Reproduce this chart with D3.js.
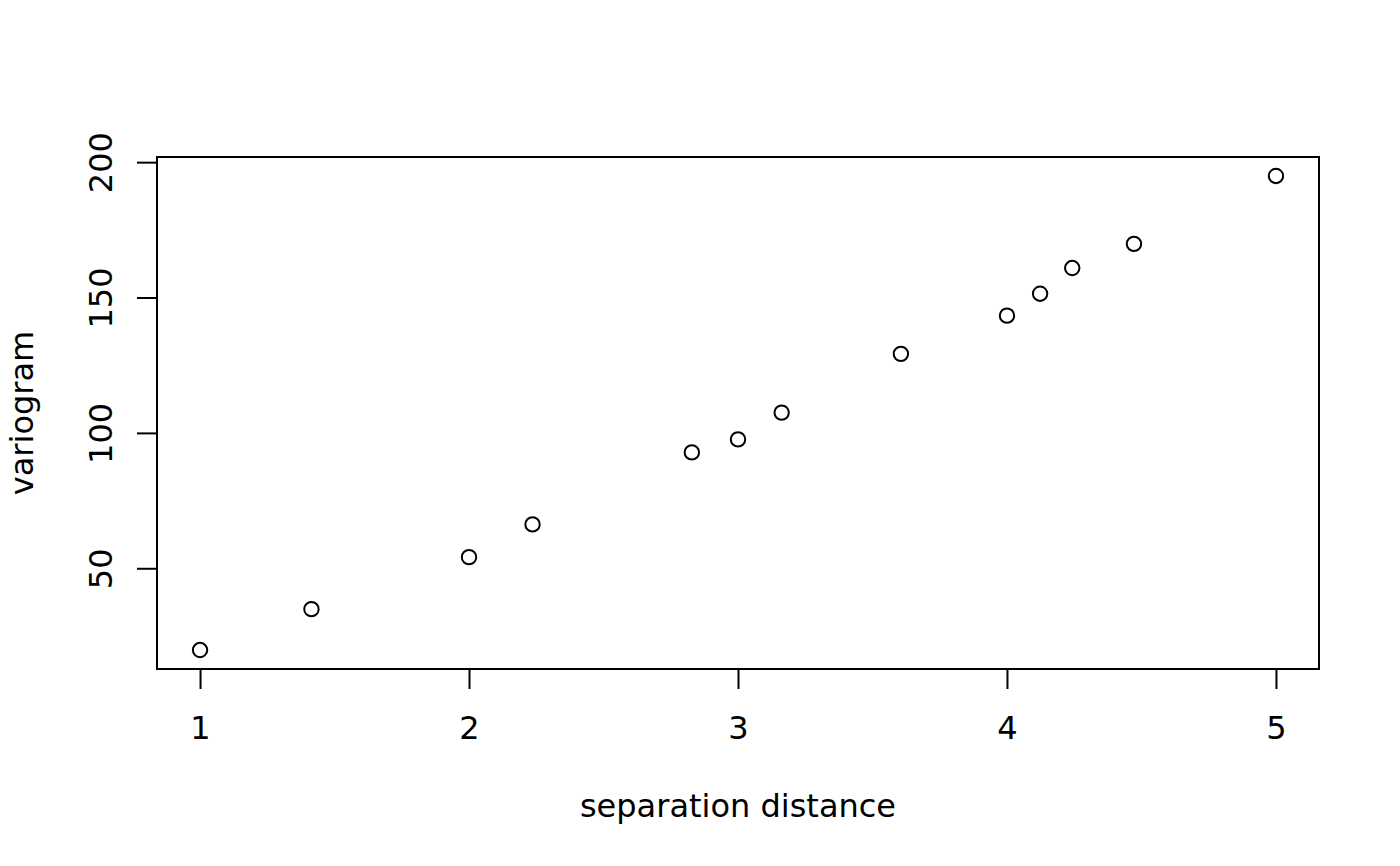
<!DOCTYPE html>
<html><head><meta charset="utf-8">
<script src="https://cdn.jsdelivr.net/npm/d3@7"></script>
<style>body{margin:0;background:#fff}svg{display:block}text{font-family:"DejaVu Sans";fill:#000}</style>
</head><body>
<svg id="c" width="1400" height="866"></svg>
<script>
const distances = [1, 1.4142, 2, 2.2361, 2.8284, 3, 3.1623, 3.6056, 4, 4.1231, 4.2426, 4.4721, 5];
const variogram = [19.8, 34.9, 54.1, 66.2, 92.8, 97.6, 107.5, 129.2, 143.3, 151.4, 160.9, 169.8, 194.9];
const xTicks = [1, 2, 3, 4, 5];
const yTicks = [50, 100, 150, 200];
const xLabel = "separation distance";
const yLabel = "variogram";

const svg = d3.select("#c");
const L = 157, R = 1319, T = 157, B = 669;
const xr = d3.extent(distances), yr = d3.extent(variogram);
const xp = (xr[1]-xr[0])*0.04, yp = (yr[1]-yr[0])*0.04;
const x = d3.scaleLinear().domain([xr[0]-xp, xr[1]+xp]).range([L, R]);
const y = d3.scaleLinear().domain([yr[0]-yp, yr[1]+yp]).range([B, T]);

svg.append("rect").attr("x", L).attr("y", T).attr("width", R-L).attr("height", B-T)
  .attr("fill", "none").attr("stroke", "#000").attr("stroke-width", 2);

const fs = 32;
const xa = svg.append("g").attr("transform", `translate(0,${B})`)
  .call(d3.axisBottom(x).tickValues(xTicks).tickSize(20).tickPadding(0).tickFormat(d3.format("d")));
xa.select(".domain").remove();
xa.selectAll("line").attr("stroke", "#000").attr("stroke-width", 2);
xa.selectAll("text").attr("font-size", fs).attr("font-family", "DejaVu Sans").attr("dy", null).attr("y", 70);

const ya = svg.append("g").attr("transform", `translate(${L},0)`)
  .call(d3.axisLeft(y).tickValues(yTicks).tickSize(20).tickFormat(d3.format("d")));
ya.select(".domain").remove();
ya.selectAll("line").attr("stroke", "#000").attr("stroke-width", 2);
ya.selectAll("text").attr("font-size", fs).attr("font-family", "DejaVu Sans")
  .attr("x", null).attr("dy", null).attr("text-anchor", "middle")
  .attr("transform", "translate(-45,0) rotate(-90)");

svg.append("g").selectAll("circle").data(distances).join("circle")
  .attr("cx", d => x(d)).attr("cy", (d, i) => y(variogram[i])).attr("r", 7.2)
  .attr("fill", "none").attr("stroke", "#000").attr("stroke-width", 2);

svg.append("text").attr("x", (L+R)/2).attr("y", 817).attr("text-anchor", "middle")
  .attr("font-size", fs).text(xLabel);
svg.append("text").attr("transform", `translate(33,${(T+B)/2}) rotate(-90)`).attr("text-anchor", "middle")
  .attr("font-size", fs).text(yLabel);
</script>
</body></html>
